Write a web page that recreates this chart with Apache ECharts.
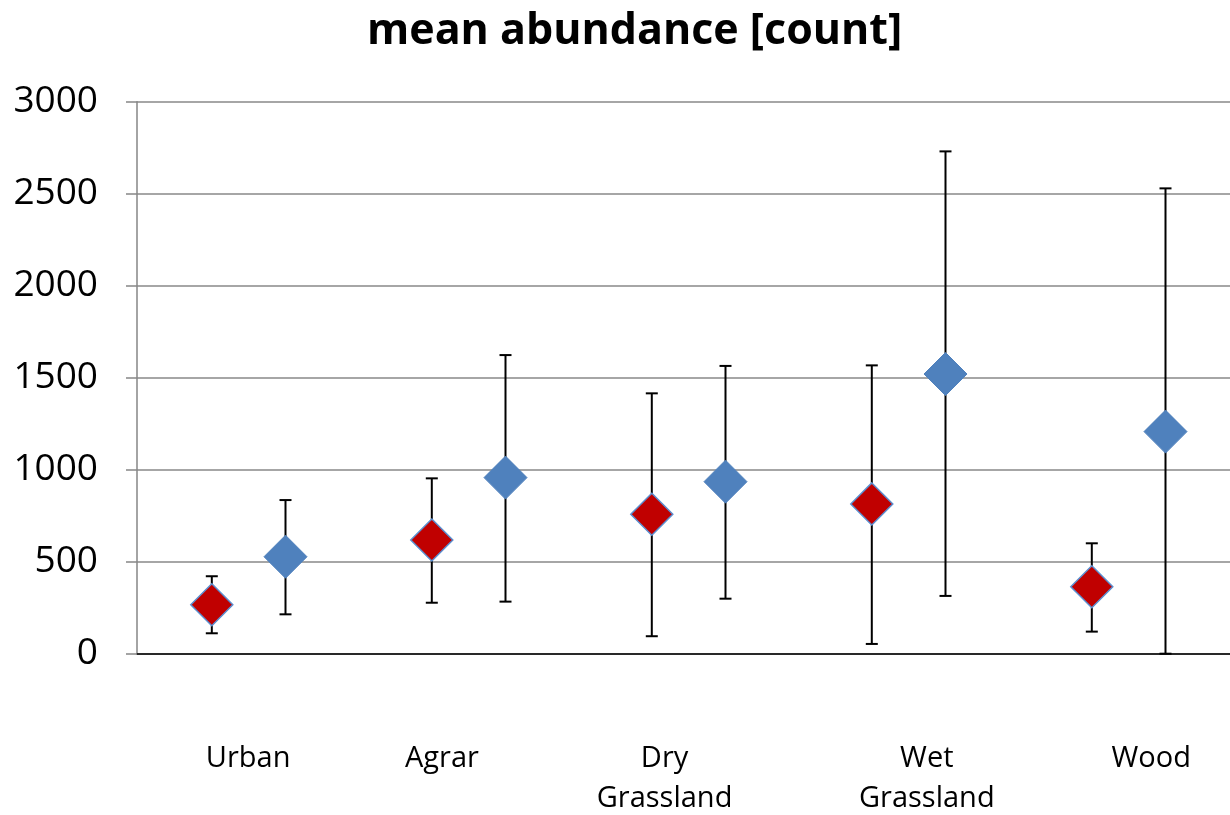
<!DOCTYPE html>
<html>
<head>
<meta charset="utf-8">
<script src="https://cdn.jsdelivr.net/npm/echarts@6/dist/echarts.min.js"></script>
<style>html,body{margin:0;padding:0;background:#fff}#c{width:1230px;height:815px}</style>
</head>
<body>
<div id="c"></div>
<script>
// ---- data ----
var categories = ['Urban', 'Agrar', 'Dry\nGrassland', 'Wet\nGrassland', 'Wood'];
var redMean = [266, 618, 758, 814, 364];
var redLow  = [111, 277, 95, 53, 120];
var redHigh = [421, 953, 1415, 1567, 600];
var blueMean = [527, 957, 935, 1520, 1207];
var blueLow  = [214, 283, 299, 314, 0];
var blueHigh = [835, 1623, 1564, 2730, 2529];
var yTicks = [0, 500, 1000, 1500, 2000, 2500, 3000];

// ---- layout (x positions within category slots) ----
var redOffset = 0.34, blueOffset = 0.675;
var labelPos = [0.505, 1.386, 2.398, 3.59, 4.61];

function pts(vals, off) { return vals.map(function (v, i) { return [i + off, v]; }); }
function errs(lo, hi, off) { return lo.map(function (l, i) { return [i + off, l, hi[i]]; }); }

function errRender(params, api) {
  var x = api.value(0);
  var lo = api.coord([x, api.value(1)]);
  var hi = api.coord([x, api.value(2)]);
  var w = 6;
  var st = { stroke: '#000', lineWidth: 2 };
  return {
    type: 'group',
    children: [
      { type: 'line', shape: { x1: lo[0], y1: lo[1], x2: hi[0], y2: hi[1] }, style: st },
      { type: 'line', shape: { x1: hi[0] - w, y1: hi[1], x2: hi[0] + w, y2: hi[1] }, style: st },
      { type: 'line', shape: { x1: lo[0] - w, y1: lo[1], x2: lo[0] + w, y2: lo[1] }, style: st }
    ]
  };
}

var FONT = '"Open Sans", "Noto Sans", sans-serif';
var chart = echarts.init(document.getElementById('c'), null, { renderer: 'canvas' });
chart.setOption({
  backgroundColor: '#fff',
  animation: false,
  title: {
    text: 'mean abundance [count]',
    left: 362,
    top: 5,
    textStyle: { fontFamily: FONT, fontWeight: 'bold', fontSize: 43, color: '#000' }
  },
  grid: { left: 137, top: 101.7, width: 1100, height: 552, outerBoundsMode: 'none', containLabel: false },
  xAxis: {
    type: 'value', min: 0, max: 5,
    splitLine: { show: false },
    axisLine: { show: true, onZero: false, lineStyle: { color: '#000', width: 1.5 } },
    axisTick: { show: false },
    axisLabel: {
      show: true,
      customValues: labelPos,
      margin: 85,
      verticalAlign: 'top',
      lineHeight: 40,
      fontFamily: FONT, fontSize: 29, color: '#000',
      formatter: function (v) {
        var best = 0, d = 1e9;
        labelPos.forEach(function (p, i) { if (Math.abs(p - v) < d) { d = Math.abs(p - v); best = i; } });
        return categories[best];
      }
    }
  },
  yAxis: {
    type: 'value', min: 0, max: 3000, interval: 500,
    axisLine: { show: true, lineStyle: { color: '#868686', width: 1.5 } },
    axisTick: { show: true, inside: false, length: 11, lineStyle: { color: '#868686', width: 1.5 } },
    splitLine: { show: true, lineStyle: { color: '#888', width: 1.5 } },
    axisLabel: {
      margin: 39, fontFamily: FONT, fontSize: 37, color: '#000',
      formatter: function (v) { return yTicks.indexOf(v) >= 0 ? String(v) : ''; }
    }
  },
  series: [
    { type: 'custom', renderItem: errRender, data: errs(redLow, redHigh, redOffset), z: 2 },
    { type: 'custom', renderItem: errRender, data: errs(blueLow, blueHigh, blueOffset), z: 2 },
    {
      type: 'scatter', data: pts(redMean, redOffset), symbol: 'diamond', symbolSize: [42, 42], z: 3,
      itemStyle: { color: '#C00000', borderColor: '#5B8FD0', borderWidth: 1.5, opacity: 1 }
    },
    {
      type: 'scatter', data: pts(blueMean, blueOffset), symbol: 'diamond', symbolSize: [43, 43], z: 3,
      itemStyle: { color: '#4F81BD', borderColor: '#4F81BD', borderWidth: 1, opacity: 1 }
    }
  ]
});
</script>
</body>
</html>
